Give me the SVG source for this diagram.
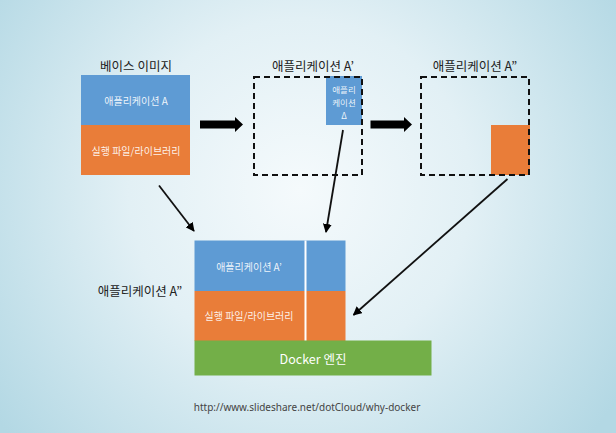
<svg xmlns="http://www.w3.org/2000/svg" width="616" height="433" viewBox="0 0 616 433">
<defs>
<radialGradient id="bg" cx="300" cy="190" r="380" gradientUnits="userSpaceOnUse">
<stop offset="0" stop-color="#f5fafc"/>
<stop offset="0.45" stop-color="#e2f0f5"/>
<stop offset="1" stop-color="#b3d8e4"/>
</radialGradient>
<marker id="ah" viewBox="0 0 10 10" refX="9" refY="5" markerWidth="5" markerHeight="5" orient="auto" markerUnits="strokeWidth">
<path d="M0,0 L10,5 L0,10 z" fill="#000"/>
</marker>
<style>
.lbl{font-family:"Noto Sans CJK KR","Liberation Sans",sans-serif;font-size:12.5px;fill:#222;text-anchor:middle;dominant-baseline:central}
.in{font-family:"Noto Sans CJK KR","Liberation Sans",sans-serif;font-size:10px;fill:#fff;text-anchor:middle;dominant-baseline:central;fill-opacity:0.9}
.sm{font-size:8.5px}
.blue{fill:#5e9bd4}
.orange{fill:#e97d39}
.green{fill:#73af48}
.dash{fill:none;stroke:#111;stroke-width:2;stroke-dasharray:6 4}
.thin{stroke:#111;stroke-width:1.8;fill:none;marker-end:url(#ah)}
</style>
</defs>
<rect width="616" height="433" fill="url(#bg)"/>

<g id="base-image">
<text class="lbl" x="136" y="65">베이스 이미지</text>
<rect class="blue" x="81" y="75" width="109" height="50"/>
<rect class="orange" x="81" y="125" width="109" height="50"/>
<text class="in" x="136" y="100">애플리케이션 A</text>
<text class="in" x="136" y="150">실행 파일/라이브러리</text>
</g>

<g id="app-a1">
<text class="lbl" x="313" y="65">애플리케이션 A’</text>
<rect class="blue" x="326" y="76" width="36" height="49"/>
<rect class="dash" x="254" y="77" width="108" height="98"/>
<text class="in sm" x="344" y="89">애플리</text>
<text class="in sm" x="344" y="102">케이션</text>
<text class="in sm" x="344" y="115">Δ</text>
</g>

<g id="app-a2">
<text class="lbl" x="475" y="65">애플리케이션 A”</text>
<rect class="orange" x="491" y="125" width="39" height="50"/>
<rect class="dash" x="421" y="77" width="108" height="98"/>
</g>

<g id="stack">
<text class="lbl" x="140" y="290">애플리케이션 A”</text>
<rect class="blue" x="194.5" y="240.5" width="151" height="50.5"/>
<rect class="orange" x="194.5" y="291" width="151" height="50"/>
<rect x="304.5" y="240.5" width="2" height="100.5" fill="#fff"/>
<rect class="green" x="194.5" y="340.5" width="237" height="35"/>
<text class="in" x="249" y="266">애플리케이션 A’</text>
<text class="in" x="249" y="315">실행 파일/라이브러리</text>
<text class="lbl" x="313" y="358" style="fill:#fff">Docker 엔진</text>
</g>

<g id="connectors">
<path d="M200,120.5 H235 V117 L243,124.5 L235,132 V128.5 H200 Z" fill="#000"/>
<path d="M370.5,120.5 H404 V117 L412,124.5 L404,132 V128.5 H370.5 Z" fill="#000"/>
<line class="thin" x1="159" y1="185.5" x2="194" y2="231"/>
<line class="thin" x1="343" y1="130" x2="326" y2="232"/>
<line class="thin" x1="507.5" y1="179" x2="353.5" y2="315"/>
</g>

<text x="307" y="407" style="font-family:'Noto Sans','Liberation Sans',sans-serif;font-size:10px;fill:#444;text-anchor:middle;dominant-baseline:central">http://www.slideshare.net/dotCloud/why-docker</text>
</svg>
